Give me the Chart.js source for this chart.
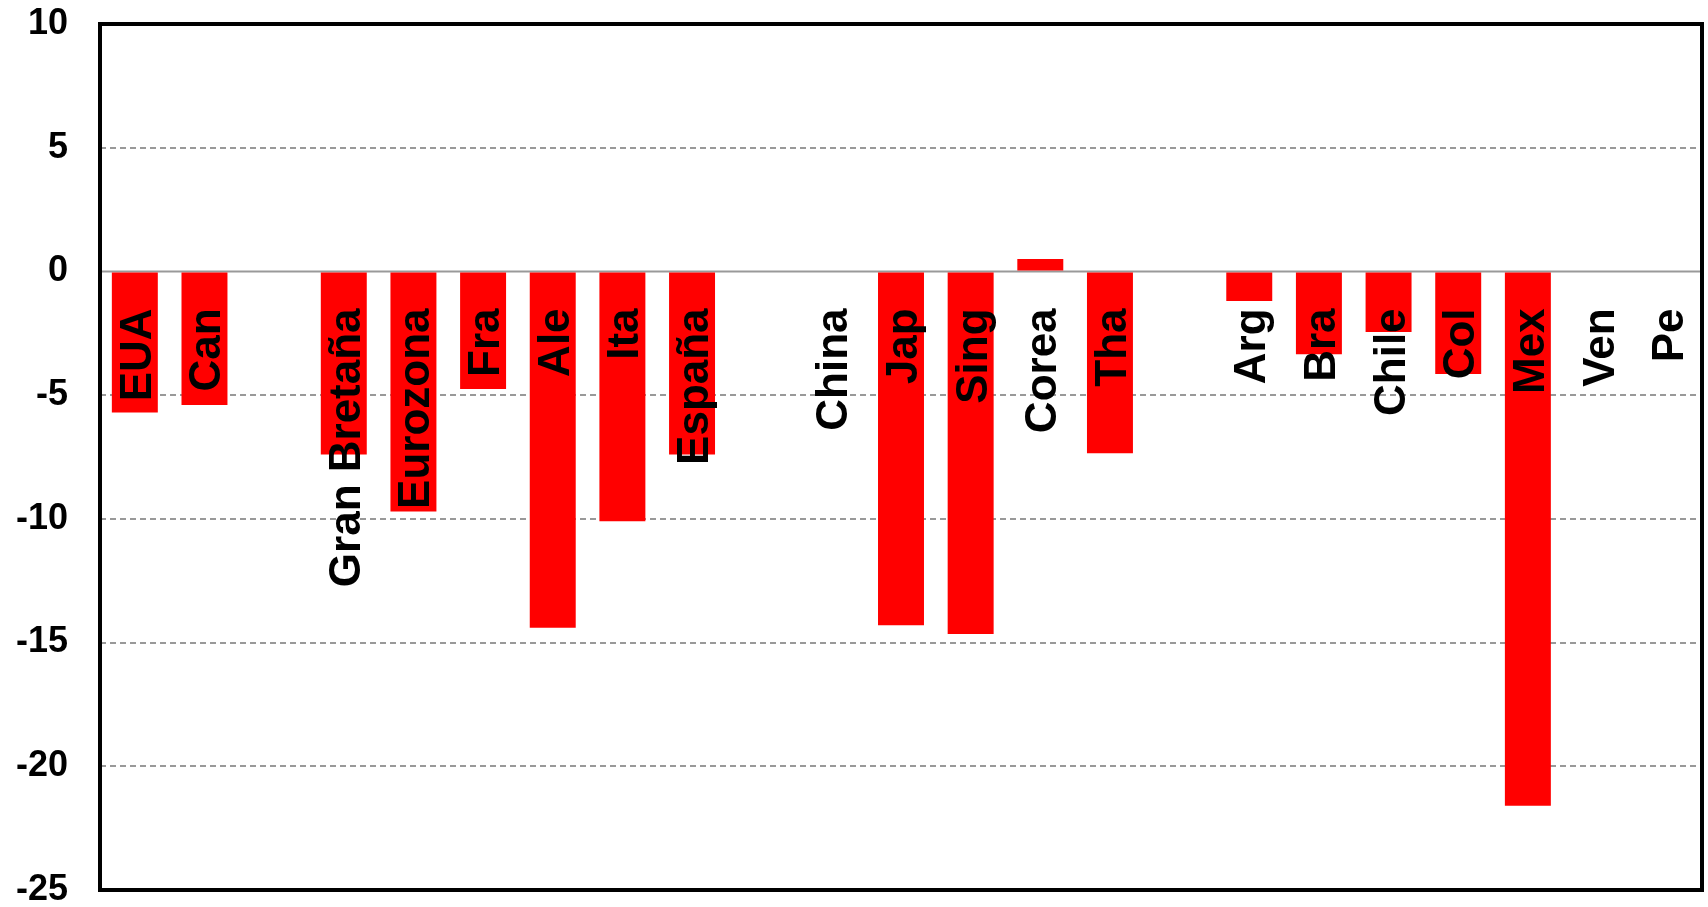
<!DOCTYPE html>
<html>
<head>
<meta charset="utf-8">
<script src="https://cdn.jsdelivr.net/npm/chart.js@4/dist/chart.umd.min.js"></script>
<style>
  html, body { margin: 0; padding: 0; background: #fff; }
  #wrap { width: 1708px; height: 907px; }
</style>
</head>
<body>
<div id="wrap"><canvas id="gapChart"></canvas></div>
<script>
// categories (blank entries are the gaps between groups)
const countries = ['EUA', 'Can', '', 'Gran Bretaña', 'Eurozona', 'Fra', 'Ale', 'Ita', 'España', '',
    'China', 'Jap', 'Sing', 'Corea', 'Tha', '', 'Arg', 'Bra', 'Chile', 'Col', 'Mex', 'Ven', 'Pe'];
const values = [-5.7, -5.4, null, -7.4, -9.7, -4.75, -14.4, -10.1, -7.4, null,
    null, -14.3, -14.65, 0.5, -7.35, null, -1.2, -3.35, -2.45, -4.15, -21.6, null, null];
const yTicks = [10, 5, 0, -5, -10, -15, -20, -25];

const FONT = '"Liberation Sans", Arial, sans-serif';

// zero line, frame and the rotated country names inside the plot
const framePlugin = {
    id: 'frame',
    beforeDatasetsDraw(chart) {
        const { ctx, chartArea, scales } = chart;
        const y0 = scales.y.getPixelForValue(0);
        ctx.save();
        ctx.strokeStyle = '#999';
        ctx.lineWidth = 2;
        ctx.beginPath();
        ctx.moveTo(chartArea.left, y0);
        ctx.lineTo(chartArea.right, y0);
        ctx.stroke();
        ctx.restore();
    },
    afterDatasetsDraw(chart) {
        const { ctx, scales } = chart;
        const y0 = scales.y.getPixelForValue(0);
        ctx.save();
        ctx.fillStyle = '#000';
        ctx.font = 'bold 44px ' + FONT;
        ctx.textAlign = 'right';
        ctx.textBaseline = 'alphabetic';
        countries.forEach((name, i) => {
            if (!name) return;
            const x = scales.x.getPixelForValue(i);
            ctx.save();
            ctx.translate(x, y0 + 37);
            ctx.rotate(-Math.PI / 2);
            ctx.fillText(name, 0, 16);
            ctx.restore();
        });
        ctx.restore();
    },
    afterDraw(chart) {
        const { ctx, chartArea } = chart;
        ctx.save();
        ctx.strokeStyle = '#000';
        ctx.lineWidth = 4;
        ctx.strokeRect(chartArea.left, chartArea.top,
            chartArea.right - chartArea.left, chartArea.bottom - chartArea.top);
        ctx.restore();
    }
};

const ctx = document.getElementById('gapChart').getContext('2d');
new Chart(ctx, {
    type: 'bar',
    data: {
        labels: countries,
        datasets: [{
            data: values,
            backgroundColor: '#FF0000',
            barPercentage: 0.66,
            categoryPercentage: 1
        }]
    },
    options: {
        responsive: true,
        maintainAspectRatio: false,
        devicePixelRatio: 1,
        animation: false,
        layout: { padding: { top: 24, right: 6, bottom: 17, left: 0 } },
        plugins: {
            legend: { display: false },
            tooltip: { enabled: false }
        },
        scales: {
            x: {
                display: false
            },
            y: {
                min: -25,
                max: 10,
                afterBuildTicks: (scale) => {
                    scale.ticks = yTicks.map(v => ({ value: v }));
                },
                afterFit: (scale) => {
                    scale.width = 100;
                    scale.paddingTop = 0;
                    scale.paddingBottom = 0;
                },
                ticks: {
                    padding: 32,
                    color: '#000',
                    font: { family: FONT, size: 36, weight: 'bold' }
                },
                grid: {
                    drawTicks: false,
                    lineWidth: 2,
                    color: (c) => {
                        const v = c.tick ? c.tick.value : null;
                        return (v === 0 || v === 10 || v === -25) ? 'rgba(0,0,0,0)' : '#999';
                    }
                },
                border: { display: false, dash: [6, 4] }
            }
        }
    },
    plugins: [framePlugin]
});
</script>
</body>
</html>
